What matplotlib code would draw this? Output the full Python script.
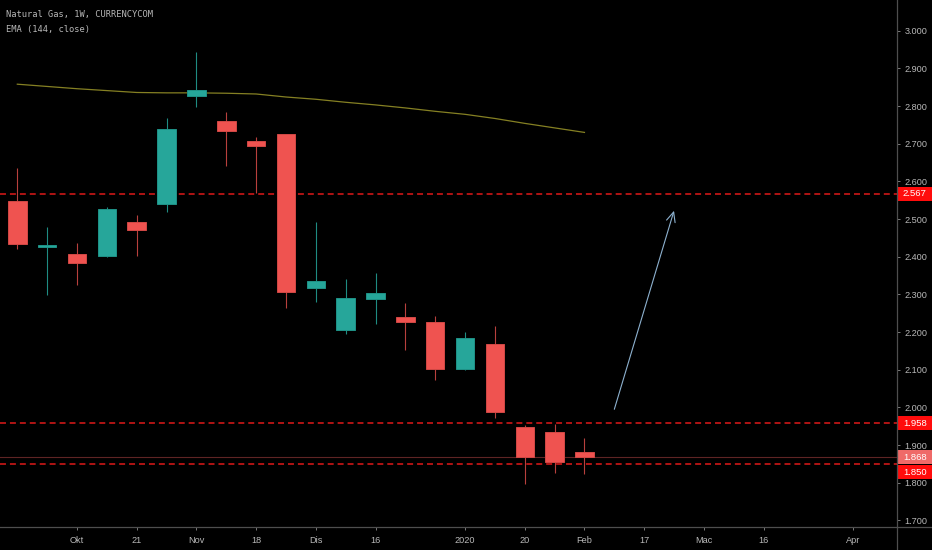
import matplotlib
matplotlib.use("Agg")
import matplotlib.pyplot as plt
from matplotlib.patches import Rectangle
from matplotlib.lines import Line2D
import numpy as np
import pandas as pd

# ---------------- data ----------------
start_week = "2019-09-23"
opens  = [2.549, 2.427, 2.407, 2.402, 2.493, 2.539, 2.827, 2.760, 2.706, 2.727,
          2.316, 2.205, 2.288, 2.239, 2.228, 2.103, 2.169, 1.947, 1.934, 1.882]
highs  = [2.635, 2.479, 2.436, 2.533, 2.510, 2.769, 2.943, 2.783, 2.718, 2.727,
          2.492, 2.342, 2.356, 2.276, 2.242, 2.201, 2.216, 1.953, 1.956, 1.919]
lows   = [2.421, 2.298, 2.326, 2.398, 2.402, 2.519, 2.798, 2.642, 2.568, 2.263,
          2.281, 2.195, 2.222, 2.152, 2.074, 2.100, 1.973, 1.797, 1.827, 1.824]
closes = [2.433, 2.430, 2.384, 2.526, 2.472, 2.738, 2.842, 2.735, 2.694, 2.306,
          2.336, 2.290, 2.304, 2.227, 2.103, 2.185, 1.987, 1.869, 1.854, 1.868]
ema144 = [2.858, 2.852, 2.846, 2.841, 2.836, 2.835, 2.835, 2.834, 2.832, 2.824,
          2.818, 2.810, 2.803, 2.795, 2.786, 2.778, 2.767, 2.754, 2.742, 2.730]

tick_dates = ["2019-10-07", "2019-10-21", "2019-11-04", "2019-11-18", "2019-12-02",
              "2019-12-16", "2020-01-06", "2020-01-20", "2020-02-03", "2020-02-17",
              "2020-03-02", "2020-03-16", "2020-04-06"]
tick_labels = ["Okt", "21", "Nov", "18", "Dis", "16", "2020", "20", "Feb", "17",
               "Mac", "16", "Apr"]

h_levels = [2.567, 1.958, 1.850]
last_price = 1.868
arrow_from = ("2020-02-10", 1.995)
arrow_to = ("2020-02-24", 2.522)

title_line1 = "Natural Gas, 1W, CURRENCYCOM"
title_line2 = "EMA (144, close)"

# ---------------- helpers ----------------
t0 = pd.Timestamp(start_week)
def widx(d):
    return (pd.Timestamp(d) - t0).days / 7.0

n = len(opens)
xs = np.arange(n)

# ---------------- style ----------------
plt.rcParams['font.family'] = ['Liberation Sans', 'DejaVu Sans']
BG = "#000000"
UP, DOWN = "#26a69a", "#ef5350"
UP_W, DOWN_W = "#1f8c82", "#b8403d"
UP_E, DOWN_E = "#1f9287", "#d24845"
AXC = "#4e4e4e"
TXT = "#b8b8b8"

W, H = 932, 550
fig = plt.figure(figsize=(W / 100, H / 100), dpi=100, facecolor=BG)
ax_l, ax_b, ax_w, ax_h = 0, 23 / H, 897 / W, 527 / H
ax = fig.add_axes([ax_l, ax_b, ax_w, ax_h])
ax.set_facecolor(BG)
for s in ax.spines.values():
    s.set_visible(False)

ylim = (1.6825, 3.0815)
ax.set_ylim(*ylim)
ax.set_xlim(-0.58, 29.47)

# horizontal dashed levels
for lv in h_levels:
    ax.axhline(lv, color="#e01a1a", lw=1.1, linestyle=(0, (3.9, 2.6)), zorder=1)
# last price line
ax.axhline(last_price, color="#5e2424", lw=0.8, zorder=1)

# EMA
ax.plot(xs, ema144, color="#858023", lw=0.9, zorder=2)

# candles
bw = 0.62
for i in range(n):
    o, h, l, c = opens[i], highs[i], lows[i], closes[i]
    up = c >= o
    ax.vlines(xs[i], l, h, color=UP_W if up else DOWN_W, lw=0.8, zorder=3)
    bottom = min(o, c)
    height = max(abs(c - o), 0.003)
    ax.add_patch(Rectangle((xs[i] - bw / 2, bottom), bw, height,
                           facecolor=UP if up else DOWN,
                           edgecolor=UP_E if up else DOWN_E, lw=0.7, zorder=4))

# arrow
ax.annotate("", xy=(widx(arrow_to[0]), arrow_to[1]),
            xytext=(widx(arrow_from[0]), arrow_from[1]),
            arrowprops=dict(arrowstyle="->,head_length=0.7,head_width=0.32",
                            color="#8db1cf", lw=0.8, shrinkA=0, shrinkB=0),
            zorder=5)

# y axis on right
ax.yaxis.tick_right()
ax.set_yticks(np.round(np.arange(1.7, 3.0001, 0.1), 3))
ax.set_yticklabels([f"{v:.3f}" for v in np.round(np.arange(1.7, 3.0001, 0.1), 3)])
ax.tick_params(axis="y", colors="#7a7a7a", labelcolor=TXT, labelsize=6.6,
               length=2.4, width=0.7, pad=3)

# x axis
ax.set_xticks([widx(d) for d in tick_dates])
ax.set_xticklabels(tick_labels)
ax.tick_params(axis="x", colors="#7a7a7a", labelcolor=TXT, labelsize=6.6,
               length=2.4, width=0.7, pad=4)

# axis lines across figure
fig.add_artist(Line2D([ax_w, ax_w], [0, 1], transform=fig.transFigure,
                      color=AXC, lw=0.9))
fig.add_artist(Line2D([0, 1], [ax_b, ax_b], transform=fig.transFigure,
                      color=AXC, lw=0.9))

# price labels on right scale
ax2 = fig.add_axes([ax_w, ax_b, 1 - ax_w, ax_h])
ax2.set_ylim(*ylim)
ax2.set_xlim(0, 1)
ax2.axis("off")
ax2.patch.set_visible(False)
px_per_unit = 376.7
box_h = 14 / px_per_unit
labels = [(h_levels[0], "#ff0c0c", 0.0),
          (h_levels[1], "#ff0c0c", 0.0),
          (last_price, "#ef6a68", 0.0),
          (h_levels[2], "#ff0c0c", -8.4 / px_per_unit)]
for val, col, off in labels:
    yc = val + off
    ax2.add_patch(Rectangle((0.02, yc - box_h / 2), 1.0, box_h, facecolor=col,
                            edgecolor="none", clip_on=False, zorder=5))
    ax2.text(0.17, yc, f"{val:.3f}", color="white", fontsize=6.8,
             ha="left", va="center", zorder=6, clip_on=False)

# header texts
fig.text(6 / W, 1 - 15 / H, title_line1, color=TXT, fontsize=6.3,
         family="DejaVu Sans Mono", va="center", ha="left")
fig.text(6 / W, 1 - 29.5 / H, title_line2, color=TXT, fontsize=6.3,
         family="DejaVu Sans Mono", va="center", ha="left")

fig.savefig("out.png", dpi=100, facecolor=BG)
